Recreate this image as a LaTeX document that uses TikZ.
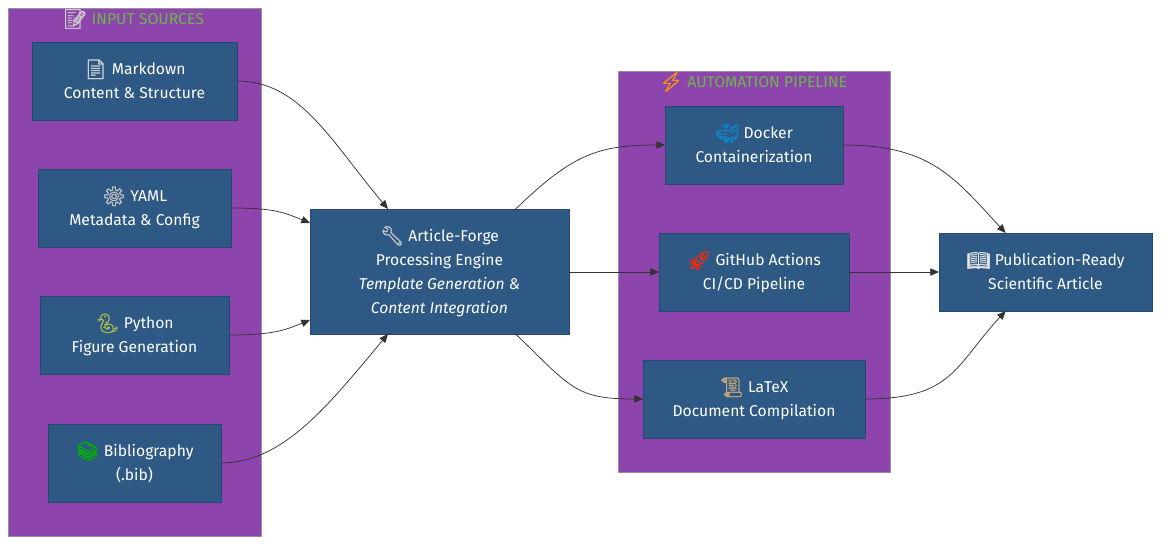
\documentclass[tikz,border=0pt]{standalone}
\usepackage{fontspec}
\setmainfont{Fira Sans}
\newfontfamily\emojifont[Scale=1.22,FakeBold=1.2]{Noto Emoji}
\usetikzlibrary{arrows.meta}
\definecolor{groupfill}{HTML}{8E44AD}
\definecolor{groupline}{HTML}{9A8FA0}
\definecolor{boxfill}{HTML}{2E5984}
\definecolor{boxline}{HTML}{26476E}
\definecolor{titlegreen}{HTML}{6AB84A}
\definecolor{linkgray}{HTML}{333333}
\definecolor{scrolltan}{HTML}{C9A77E}
\definecolor{snakegreen}{HTML}{A9C04A}
\newcommand{\emo}[2]{\smash{\raisebox{-0.8pt}{\emojifont\textcolor{#1}{#2}}}}
\newcommand{\topemo}[2]{\rule{0pt}{14.2pt}\emo{#1}{#2}}
\tikzset{
  groupbox/.style={draw=groupline, fill=groupfill, line width=0.6pt, outer sep=0pt, inner sep=0pt},
  grouptitle/.style={text=titlegreen, inner sep=0pt, font=\fontsize{11.8}{14}\selectfont},
  procbox/.style={draw=boxline, fill=boxfill, text=white, line width=0.6pt, outer sep=0pt,
    inner sep=0pt, align=center, minimum height=58.5pt, font=\fontsize{11.75}{18}\selectfont,
    execute at end node=\strut},
  link/.style={draw=linkgray, line width=0.55pt, -{Triangle[length=6.5pt,width=5.5pt]}}
}
\begin{document}
\begin{tikzpicture}[x=0.75pt, y=-0.75pt]
\useasboundingbox (0,0) rectangle (1168,548);

\node (inputs) [groupbox, minimum width=189.75pt, minimum height=396pt] at (134.5,272) {};
\node (pipeline) [groupbox, minimum width=204pt, minimum height=300.75pt] at (754,271.5) {};
\node (inputstitle) [grouptitle] at (133.5,19) {\emo{gray!40}{📝} INPUT SOURCES};
\node (pipelinetitle) [grouptitle] at (753,82) {\emo{orange!80!yellow}{⚡} AUTOMATION PIPELINE};

\node (markdown) [procbox, minimum width=153.75pt] at (134.5,81) {\topemo{gray!25}{📄} Markdown \\ Content \& Structure};
\node (yaml) [procbox, minimum width=144.75pt] at (134.5,208) {\topemo{gray!45}{⚙} YAML \\ Metadata \& Config};
\node (python) [procbox, minimum width=141.75pt] at (134.5,335) {\topemo{snakegreen}{🐍} Python \\ Figure Generation};
\node (biblio) [procbox, minimum width=129.75pt] at (134.5,463) {\topemo{green!70!black}{📚} Bibliography \\ (.bib)};
\node (engine) [procbox, minimum width=194.25pt, minimum height=93.75pt] at (439.5,271.5)
  {\topemo{gray!40}{🔧} Article-Forge \\ Processing Engine \\ \textit{Template Generation \&} \\ \textit{Content Integration}};
\node (docker) [procbox, minimum width=133.5pt] at (754,145) {\topemo{cyan!70!blue}{🐳} Docker \\ Containerization};
\node (actions) [procbox, minimum width=142.5pt] at (754,272) {\topemo{red!70!orange}{🚀} GitHub Actions \\ CI/CD Pipeline};
\node (latex) [procbox, minimum width=166.5pt] at (754,399) {\topemo{scrolltan}{📜} LaTeX \\ Document Compilation};
\node (article) [procbox, minimum width=159.75pt] at (1045.5,272) {\topemo{gray!20}{📖} Publication-Ready \\ Scientific Article};

\draw[link] (markdown.east) .. controls +(63,0) and +(-58,-69) .. ([xshift=58.5pt]engine.north west);
\draw[link] (yaml.east) .. controls +(45,0) and +(-25,-10) .. ([yshift=-10.5pt]engine.north west);
\draw[link] (python.east) .. controls +(45,0) and +(-25,10) .. ([yshift=10.5pt]engine.south west);
\draw[link] (biblio.east) .. controls +(63,0) and +(-58,69) .. ([xshift=58.5pt]engine.south west);
\draw[link] ([xshift=-40pt]engine.north east) .. controls +(56,-54) and +(-68,0) .. (docker.west);
\draw[link] (engine.east |- actions.west) -- (actions.west);
\draw[link] ([xshift=-40pt]engine.south east) .. controls +(56,54) and +(-68,0) .. (latex.west);
\draw[link] (docker.east) .. controls +(88,0) and +(-51,-55) .. ([xshift=50pt]article.north west);
\draw[link] (actions.east) -- (article.west);
\draw[link] (latex.east) .. controls +(88,0) and +(-51,55) .. ([xshift=50pt]article.south west);
\end{tikzpicture}
\end{document}
